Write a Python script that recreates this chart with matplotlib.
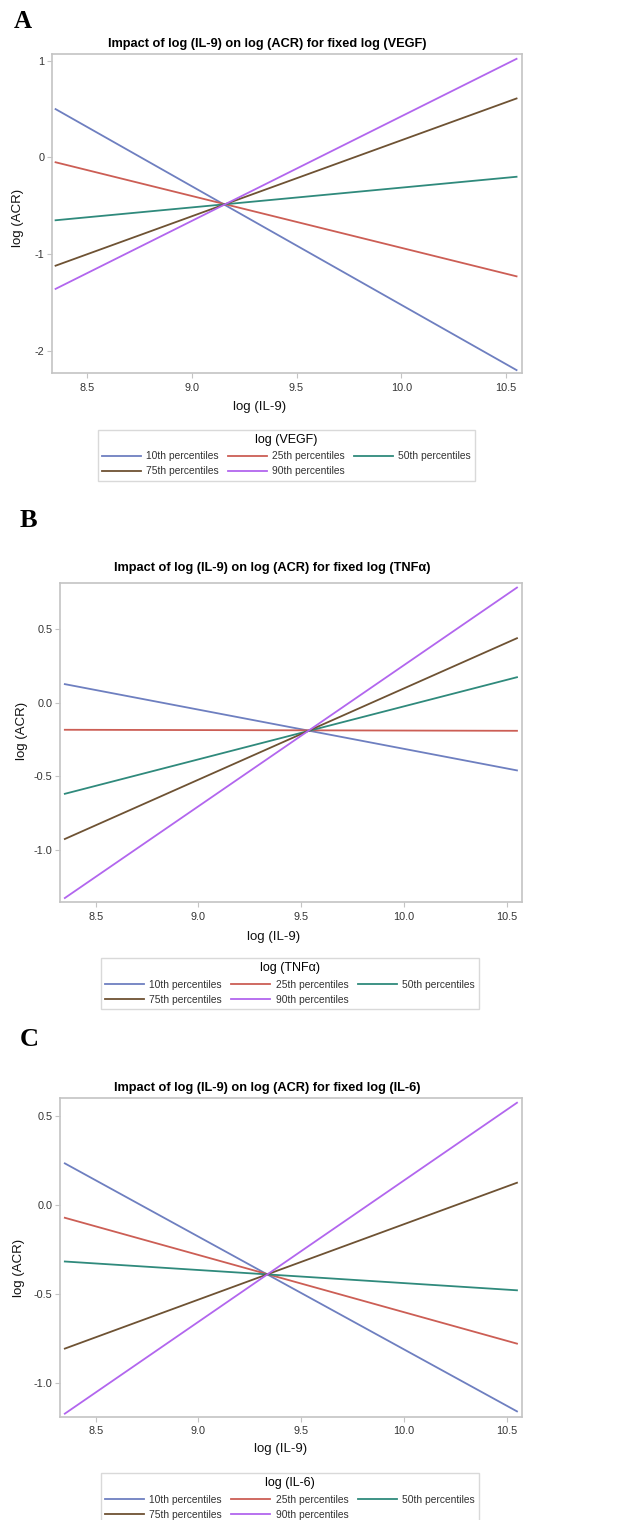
import matplotlib
matplotlib.use("Agg")
import matplotlib.pyplot as plt

plt.rcParams['font.family'] = ['Liberation Sans', 'DejaVu Sans']

# ---- data ----
x_il9 = [8.35, 10.55]
percentile_labels = ["10th percentiles", "25th percentiles", "50th percentiles",
                     "75th percentiles", "90th percentiles"]

# Panel A: fixed log(VEGF)
vegf_p10 = [0.50, -2.20]
vegf_p25 = [-0.05, -1.23]
vegf_p50 = [-0.65, -0.20]
vegf_p75 = [-1.12, 0.61]
vegf_p90 = [-1.36, 1.02]

# Panel B: fixed log(TNFα)
tnf_p10 = [0.127, -0.459]
tnf_p25 = [-0.183, -0.190]
tnf_p50 = [-0.618, 0.174]
tnf_p75 = [-0.925, 0.439]
tnf_p90 = [-1.326, 0.783]

# Panel C: fixed log(IL-6)
il6_p10 = [0.235, -1.160]
il6_p25 = [-0.071, -0.779]
il6_p50 = [-0.317, -0.479]
il6_p75 = [-0.807, 0.126]
il6_p90 = [-1.173, 0.576]

x_ticks = [8.5, 9.0, 9.5, 10.0, 10.5]
x_ticklabels = ["8.5", "9.0", "9.5", "10.0", "10.5"]
yA_ticks = [-2, -1, 0, 1]
yA_ticklabels = ["-2", "-1", "0", "1"]
yBC_ticks = [-1.0, -0.5, 0.0, 0.5]
yBC_ticklabels = ["-1.0", "-0.5", "0.0", "0.5"]

colors = ['#6E7FC0', '#CC5E55', '#2F8A7C', '#6E5233', '#B266EE']

W, H = 617, 1520
fig = plt.figure(figsize=(W / 100, H / 100), dpi=100)


def fx(px):
    return px / W


def fy(py):
    return 1 - py / H


panels = [
    dict(letter="A", letter_xy=(22.5, 21.7), letter_size=18,
         box=(52, 54, 522, 373),
         title="Impact of log (IL-9) on log (ACR) for fixed log (VEGF)",
         title_xy=(267.5, 43.5),
         series=[vegf_p10, vegf_p25, vegf_p50, vegf_p75, vegf_p90],
         xlim=(8.333, 10.576), ylim=(-2.23, 1.07),
         yticks=yA_ticks, yticklabels=yA_ticklabels,
         xlabel_coords=(0.4426, -0.108), ylabel_coords=(-0.0717, 0.486),
         legend_title="log (VEGF)", legend_xy=(97.7, 430)),
    dict(letter="B", letter_xy=(28.5, 521), letter_size=19,
         box=(60.3, 583.3, 521.7, 902.3),
         title="Impact of log (IL-9) on log (ACR) for fixed log (TNF\u03b1)",
         title_xy=(272.5, 567.7),
         series=[tnf_p10, tnf_p25, tnf_p50, tnf_p75, tnf_p90],
         xlim=(8.328, 10.573), ylim=(-1.355, 0.812),
         yticks=yBC_ticks, yticklabels=yBC_ticklabels,
         xlabel_coords=(0.4627, -0.110), ylabel_coords=(-0.0837, 0.537),
         legend_title="log (TNF\u03b1)", legend_xy=(101, 958.3)),
    dict(letter="C", letter_xy=(29, 1039), letter_size=19,
         box=(60.3, 1098.3, 521.7, 1416.7),
         title="Impact of log (IL-9) on log (ACR) for fixed log (IL-6)",
         title_xy=(267.5, 1088.3),
         series=[il6_p10, il6_p25, il6_p50, il6_p75, il6_p90],
         xlim=(8.328, 10.573), ylim=(-1.19, 0.601),
         yticks=yBC_ticks, yticklabels=yBC_ticklabels,
         xlabel_coords=(0.477, -0.1015), ylabel_coords=(-0.09, 0.4686),
         legend_title="log (IL-6)", legend_xy=(101, 1473.3)),
]

frame_col = '#c4c4c4'
text_col = '#333333'
order = [0, 3, 1, 4, 2]  # row-wise appearance with 3 columns

for p in panels:
    l, t, r, b = p['box']
    ax = fig.add_axes([fx(l), fy(b), fx(r) - fx(l), (b - t) / H])
    lines = []
    for vals, c, lab in zip(p['series'], colors, percentile_labels):
        ln, = ax.plot(x_il9, vals, color=c, lw=1.3, label=lab)
        lines.append(ln)
    ax.set_xlim(*p['xlim'])
    ax.set_ylim(*p['ylim'])
    ax.set_xticks(x_ticks)
    ax.set_xticklabels(x_ticklabels)
    ax.set_yticks(p['yticks'])
    ax.set_yticklabels(p['yticklabels'])
    for s in ax.spines.values():
        s.set_color(frame_col)
        s.set_linewidth(1.2)
    ax.tick_params(axis='both', length=3.6, width=0.8, color=frame_col,
                   labelsize=7.8, labelcolor=text_col)
    ax.tick_params(axis='x', pad=3.4)
    ax.tick_params(axis='y', pad=2)

    ax.set_xlabel("log (IL-9)", fontsize=9.5, color='#111111')
    ax.xaxis.label.set_va('center')
    ax.xaxis.set_label_coords(*p['xlabel_coords'])
    ax.set_ylabel("log (ACR)", fontsize=9.5, color='#111111')
    ax.yaxis.label.set_va('center')
    ax.yaxis.set_label_coords(*p['ylabel_coords'])

    fig.text(fx(p['title_xy'][0]), fy(p['title_xy'][1]), p['title'],
             fontsize=9.2, fontweight='bold', ha='center', va='center')
    fig.text(fx(p['letter_xy'][0]), fy(p['letter_xy'][1]), p['letter'],
             fontsize=p['letter_size'], fontweight='bold', ha='center', va='center',
             family=['Liberation Serif', 'DejaVu Serif'])

    leg = fig.legend([lines[i] for i in order], [percentile_labels[i] for i in order],
                     loc='upper left',
                     bbox_to_anchor=(fx(p['legend_xy'][0]), fy(p['legend_xy'][1])),
                     bbox_transform=fig.transFigure,
                     ncol=3, fontsize=7.4, title=p['legend_title'],
                     title_fontsize=9, frameon=True, fancybox=False,
                     edgecolor='#d0d0d0', borderpad=0.4, handlelength=3.8,
                     handletextpad=0.5, columnspacing=0.9, labelspacing=0.5,
                     borderaxespad=0)
    leg.get_frame().set_linewidth(1.0)
    for txt in leg.get_texts():
        txt.set_color(text_col)

fig.savefig("out.png", dpi=100)
